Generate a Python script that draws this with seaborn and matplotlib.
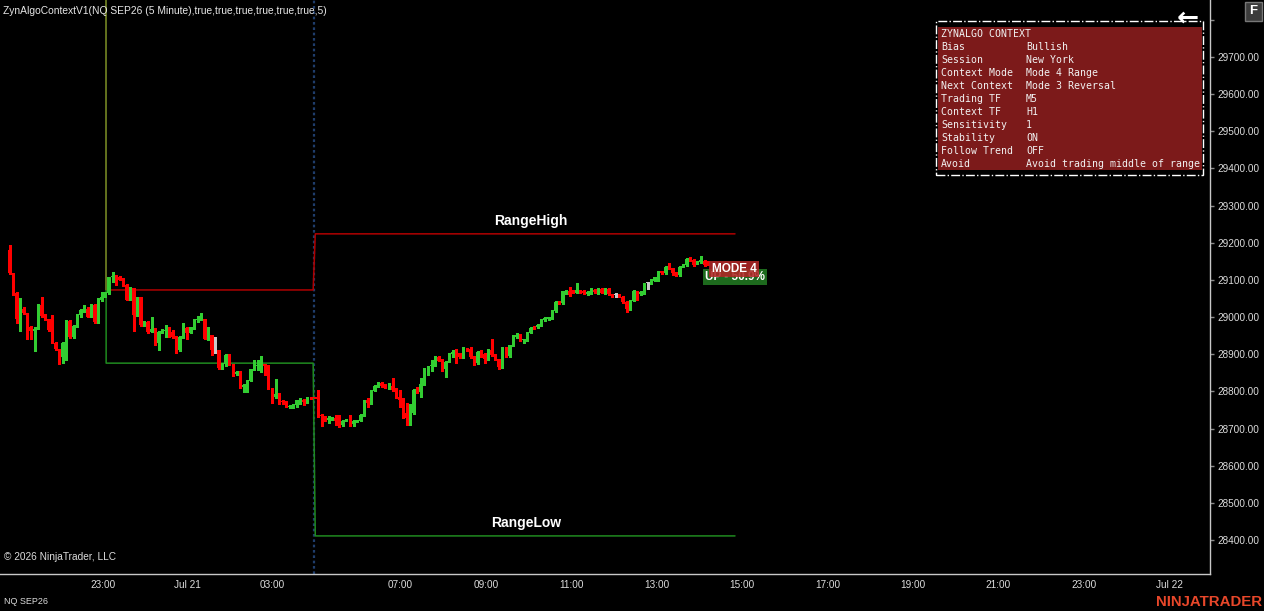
"""
ZynAlgo context chart - NQ SEP26 5 minute candles with context range lines.
"""

import matplotlib
matplotlib.use("Agg")
import matplotlib.pyplot as plt
from matplotlib.patches import Rectangle
import numpy as np
import pandas as pd
import seaborn as sns

W, H = 1264, 611

# --- candles (5 minute bars, bar index = position) ---
opens = [
    29180, 29119, 29065, 28996, 29021, 29010, 28974, 28962, 28969, 29032,
    29003, 28994, 28965, 28931, 28913, 28893, 28931, 28989, 28947, 28976,
    29005, 29019, 29023, 29001, 29032, 28987, 29047, 29054, 29065, 29107,
    29110, 29107, 29101, 29086, 29047, 29077, 29005, 29053, 28978, 28987,
    28960, 28969, 28929, 28960, 28963, 28965, 28960, 28947, 28911, 28947,
    28971, 28958, 28972, 28992, 28994, 28996, 28942, 28951, 28911, 28911,
    28862, 28875, 28898, 28873, 28848, 28852, 28811, 28817, 28829, 28859,
    28867, 28871, 28873, 28868, 28808, 28785, 28794, 28775, 28772, 28757,
    28758, 28763, 28776, 28778, 28772, 28784, 28785, 28783, 28736, 28732,
    28723, 28725, 28728, 28726, 28710, 28721, 28729, 28712, 28719, 28721,
    28737, 28777, 28768, 28802, 28815, 28822, 28817, 28811, 28815, 28806,
    28786, 28779, 28743, 28729, 28741, 28808, 28799, 28820, 28860, 28867,
    28869, 28892, 28885, 28860, 28880, 28901, 28909, 28902, 28893, 28914,
    28914, 28893, 28877, 28909, 28901, 28887, 28911, 28898, 28886, 28865,
    28917, 28895, 28924, 28947, 28952, 28937, 28937, 28958, 28972, 28972,
    28979, 28992, 28995, 28998, 29017, 29041, 29037, 29064, 29071, 29071,
    29066, 29071, 29070, 29062, 29064, 29073, 29064, 29075, 29064, 29075,
    29061, 29059, 29059, 29055, 29040, 29021, 29044, 29068, 29062, 29064,
    29091, 29091, 29098, 29100, 29123, 29118, 29136, 29131, 29120, 29113,
    29136, 29140, 29156, 29154, 29145, 29149, 29152, 29149,
]
highs = [
    29194, 29119, 29068, 29050, 29028, 29012, 28976, 28972, 29035, 29054,
    29008, 28996, 29005, 28933, 28915, 28933, 28992, 28992, 28978, 29008,
    29023, 29032, 29028, 29035, 29034, 29050, 29068, 29068, 29108, 29121,
    29113, 29110, 29106, 29090, 29080, 29077, 29055, 29055, 28990, 28989,
    29001, 28971, 28962, 28967, 28978, 28972, 28965, 28949, 28949, 28983,
    28974, 28974, 28994, 29002, 29011, 28996, 28972, 28953, 28947, 28911,
    28877, 28900, 28900, 28875, 28854, 28854, 28819, 28831, 28861, 28884,
    28884, 28895, 28873, 28871, 28810, 28832, 28796, 28777, 28774, 28763,
    28765, 28778, 28781, 28780, 28785, 28785, 28786, 28805, 28738, 28733,
    28734, 28731, 28736, 28736, 28723, 28727, 28736, 28723, 28723, 28739,
    28777, 28781, 28804, 28817, 28824, 28824, 28819, 28822, 28835, 28808,
    28804, 28781, 28768, 28766, 28806, 28811, 28835, 28864, 28869, 28884,
    28894, 28894, 28887, 28882, 28903, 28911, 28913, 28904, 28920, 28918,
    28920, 28895, 28908, 28911, 28903, 28913, 28940, 28900, 28888, 28919,
    28919, 28926, 28951, 28956, 28954, 28942, 28960, 28973, 28975, 28981,
    28996, 28999, 29001, 29019, 29043, 29043, 29071, 29073, 29080, 29073,
    29091, 29073, 29072, 29070, 29077, 29075, 29077, 29077, 29078, 29077,
    29063, 29064, 29061, 29057, 29042, 29046, 29072, 29070, 29070, 29093,
    29095, 29102, 29109, 29124, 29125, 29138, 29145, 29133, 29122, 29138,
    29142, 29158, 29161, 29156, 29151, 29164, 29154, 29151,
]
lows = [
    29117, 29059, 28983, 28963, 29008, 28942, 28941, 28909, 28967, 29001,
    28992, 28963, 28929, 28911, 28875, 28877, 28884, 28945, 28945, 28972,
    29001, 29014, 28999, 28999, 28983, 28985, 29044, 29053, 29063, 29095,
    29086, 29099, 29084, 29045, 29045, 28963, 29003, 28976, 28976, 28958,
    28960, 28926, 28911, 28956, 28947, 28947, 28945, 28904, 28909, 28945,
    28942, 28956, 28969, 28987, 28992, 28940, 28938, 28898, 28902, 28859,
    28859, 28868, 28871, 28841, 28844, 28808, 28799, 28799, 28827, 28857,
    28857, 28853, 28844, 28806, 28769, 28781, 28767, 28767, 28757, 28754,
    28754, 28759, 28767, 28763, 28769, 28779, 28781, 28730, 28708, 28719,
    28714, 28723, 28710, 28703, 28708, 28719, 28708, 28708, 28717, 28719,
    28735, 28759, 28766, 28800, 28813, 28813, 28809, 28806, 28802, 28782,
    28759, 28728, 28710, 28710, 28739, 28797, 28786, 28818, 28844, 28856,
    28867, 28881, 28856, 28840, 28878, 28893, 28876, 28891, 28891, 28909,
    28890, 28871, 28875, 28893, 28876, 28885, 28896, 28884, 28860, 28863,
    28893, 28893, 28922, 28945, 28935, 28931, 28935, 28956, 28967, 28970,
    28977, 28990, 28993, 28996, 29015, 29035, 29035, 29062, 29057, 29064,
    29064, 29064, 29062, 29060, 29062, 29065, 29062, 29064, 29062, 29059,
    29053, 29055, 29053, 29038, 29015, 29019, 29042, 29046, 29060, 29062,
    29075, 29089, 29096, 29098, 29116, 29116, 29129, 29113, 29111, 29111,
    29134, 29138, 29150, 29138, 29143, 29145, 29138, 29141,
]
closes = [
    29119, 29065, 28996, 29021, 29010, 28974, 28962, 28969, 29032, 29003,
    28994, 28965, 28931, 28913, 28893, 28931, 28989, 28947, 28976, 29005,
    29019, 29023, 29001, 29032, 28987, 29047, 29054, 29065, 29107, 29110,
    29107, 29101, 29086, 29047, 29077, 29005, 29053, 28978, 28987, 28960,
    28969, 28929, 28960, 28963, 28965, 28960, 28947, 28911, 28947, 28971,
    28958, 28972, 28992, 28994, 28996, 28942, 28951, 28911, 28911, 28862,
    28875, 28898, 28873, 28848, 28852, 28811, 28817, 28829, 28859, 28871,
    28871, 28873, 28868, 28808, 28785, 28794, 28772, 28772, 28758, 28760,
    28763, 28776, 28778, 28772, 28784, 28781, 28783, 28732, 28733, 28721,
    28728, 28729, 28721, 28710, 28721, 28725, 28714, 28719, 28721, 28737,
    28775, 28768, 28802, 28815, 28822, 28815, 28811, 28815, 28804, 28784,
    28777, 28745, 28729, 28739, 28804, 28799, 28820, 28862, 28867, 28871,
    28892, 28883, 28858, 28880, 28901, 28907, 28901, 28893, 28914, 28911,
    28892, 28877, 28906, 28895, 28887, 28911, 28898, 28886, 28865, 28917,
    28895, 28924, 28949, 28953, 28937, 28940, 28958, 28971, 28969, 28979,
    28994, 28997, 28999, 29017, 29041, 29037, 29069, 29071, 29059, 29066,
    29073, 29066, 29064, 29068, 29073, 29067, 29075, 29066, 29076, 29061,
    29055, 29059, 29055, 29040, 29021, 29044, 29070, 29064, 29068, 29091,
    29091, 29100, 29107, 29122, 29118, 29136, 29131, 29118, 29113, 29136,
    29140, 29156, 29152, 29140, 29149, 29154, 29140, 29143,
]

# context range (bar index where it starts / switches / ends, price levels)
range_start = 27.2
range_switch = [85.6, 86.2]
range_end = 204.6
range_high = [29073, 29224]
range_low = [28876, 28411]
range_offscreen = 30000
session_bar = 85.9

x_tick_pos = [26.3, 50.0, 74.1, 110.2, 134.4, 158.5, 182.6, 206.6, 230.7, 254.7, 278.8, 303.0, 327.2]
x_tick_labels = ["23:00", "Jul 21", "03:00", "07:00", "09:00", "11:00", "13:00",
                 "15:00", "17:00", "19:00", "21:00", "23:00", "Jul 22"]
y_ticks = list(range(28400, 29900, 100))

context_keys = ["Bias", "Session", "Context Mode", "Next Context", "Trading TF",
                "Context TF", "Sensitivity", "Stability", "Follow Trend", "Avoid"]
context_vals = ["Bullish", "New York", "Mode 4 Range", "Mode 3 Reversal", "M5",
                "H1", "1", "ON", "OFF", "Avoid trading middle of range"]

mode_label = "MODE 4"
trend_label = "UP - 50.9%"

# --- styling ---
sns.set_style("dark", {"axes.facecolor": "black", "figure.facecolor": "black"})
plt.rcParams["font.family"] = ["Liberation Sans", "DejaVu Sans"]

UP, DOWN, FLAT = "#32cd32", "#ff0000", "#c8c8c8"
TXT = "#dcdcdc"


def px(x, y):
    """pixel position (from top-left) -> figure fraction"""
    return x / W, 1 - y / H


fig = plt.figure(figsize=(W / 100, H / 100), dpi=100)
ax = fig.add_axes([0, 37 / H, 1210 / W, 574 / H])
ax.set_facecolor("black")

df = pd.DataFrame({"open": opens, "high": highs, "low": lows, "close": closes})
df["bar"] = np.arange(len(df))
df["color"] = np.where(df["close"] > df["open"], UP,
                       np.where(df["close"] < df["open"], DOWN, FLAT))
body_lo = df[["open", "close"]].min(axis=1)
body_h = (df["close"] - df["open"]).abs().clip(lower=2.7)

# candles
ax.vlines(df["bar"], df["low"], df["high"], colors=df["color"], lw=1.0,
          antialiased=False, zorder=3)
ax.bar(df["bar"], body_h, bottom=body_lo, width=0.84, color=df["color"],
       linewidth=0, antialiased=False, zorder=4)

# session separator
ax.axvline(session_bar, color="#1f3d6b", lw=1.6, ls=(0, (1.2, 1.2)), zorder=2)

# range lines
rx = [range_start, range_start, range_switch[0], range_switch[1], range_end]
range_df = pd.DataFrame({
    "bar": rx * 2,
    "price": [range_offscreen, range_high[0], range_high[0], range_high[1], range_high[1],
              range_offscreen, range_low[0], range_low[0], range_low[1], range_low[1]],
    "line": ["high"] * 5 + ["low"] * 5,
})
sns.lineplot(data=range_df, x="bar", y="price", hue="line", sort=False,
             estimator=None, palette={"high": "#b00000", "low": "#1f8a1f"},
             lw=1.1, legend=False, ax=ax, zorder=2)
ax.vlines(range_start, range_high[0], range_offscreen, color="#66701e", lw=1.3, zorder=2)

mid = (range_switch[1] + range_end) / 2
ax.annotate("RangeHigh", (mid, range_high[1]), xytext=(6, 13), textcoords="offset pixels",
            ha="center", va="center", color="white", fontsize=10, fontweight="bold")
ax.annotate("RangeLow", (mid, range_low[1]), xytext=(1, 13), textcoords="offset pixels",
            ha="center", va="center", color="white", fontsize=10, fontweight="bold")

# context labels at the last bar (the mode tag sits over the trend tag, as on screen)
last = len(df) - 1
ax.annotate(trend_label, (last, closes[-1]), xytext=(27, -13), textcoords="offset pixels",
            ha="center", va="center", color="white", fontsize=8.5, fontweight="bold",
            bbox=dict(boxstyle="square,pad=0.2", fc="#1d6a1d", ec="none"), zorder=6)
ax.annotate(mode_label, (last, closes[-1]), xytext=(26, -5), textcoords="offset pixels",
            ha="center", va="center", color="white", fontsize=8.5, fontweight="bold",
            bbox=dict(boxstyle="square,pad=0.2", fc="#b02626", ec="none", alpha=0.88), zorder=7)

# axes
ax.set_xlim(-2.74, 338.6)
ax.set_ylim(28308.5, 29853.4)
ax.set_xticks(x_tick_pos)
ax.set_xticklabels(x_tick_labels)
ax.set_yticks(y_ticks)
ax.set_yticklabels([f"{v:.2f}" if v < 29800 else "" for v in y_ticks])
ax.yaxis.tick_right()
ax.tick_params(axis="both", colors="#8a8a8a", labelcolor=TXT, labelsize=7.2,
               length=2.6, width=1, direction="out")
ax.tick_params(axis="y", pad=3)
ax.tick_params(axis="x", pad=1.5)
ax.set_xlabel("")
ax.set_ylabel("")
ax.grid(False)
for side in ["left", "top"]:
    ax.spines[side].set_visible(False)
for side in ["right", "bottom"]:
    ax.spines[side].set_visible(True)
    ax.spines[side].set_color("#c8c8c8")
    ax.spines[side].set_linewidth(1)

# header / footer text
fig.text(*px(3, 11), "ZynAlgoContextV1(NQ SEP26 (5 Minute),true,true,true,true,true,true,5)",
         color="#e6e6e6", fontsize=7.4, va="center")
fig.text(*px(4, 557), "\u00a9 2026 NinjaTrader, LLC", color=TXT, fontsize=7.3, va="center")
fig.text(*px(4, 602), "NQ SEP26", color=TXT, fontsize=6.5, va="center")
fig.text(*px(1262, 602), "NINJATRADER", color="#e8472a", fontsize=10.8,
         fontweight="bold", ha="right", va="center")

# context info box
x0, y0 = px(938, 170)
fig.add_artist(Rectangle((x0, y0), 264 / W, 143 / H, transform=fig.transFigure,
                         facecolor="#7c1a1a", edgecolor="none", zorder=5))
x0, y0 = px(936, 175)
fig.add_artist(Rectangle((x0, y0), 267 / W, 154 / H, transform=fig.transFigure,
                         fill=False, edgecolor="white", lw=1, ls="-.", zorder=6))
mono = dict(family="DejaVu Sans Mono", fontsize=7.15, color="#f2f2f2", va="center", zorder=7)
fig.text(*px(941, 34), "ZYNALGO CONTEXT", **mono)
for k, (key, val) in enumerate(zip(context_keys, context_vals)):
    y = 47 + 13 * k
    fig.text(*px(941, y), key, **mono)
    fig.text(*px(1026, y), val, **mono)

# chart trader arrow and F button
fig.text(*px(1188, 19), "\u2190", color="white", fontsize=19, fontweight="bold",
         family="DejaVu Sans", ha="center", va="center", zorder=8)
x0, y0 = px(1245, 21)
fig.add_artist(Rectangle((x0, y0), 17 / W, 19 / H, transform=fig.transFigure,
                         facecolor="#3c3c3c", edgecolor="#777777", lw=1))
fig.text(*px(1253.5, 11.5), "F", color="white", fontsize=9.5, fontweight="bold",
         ha="center", va="center")

fig.savefig("out.png", dpi=100, facecolor="black")
plt.close(fig)
